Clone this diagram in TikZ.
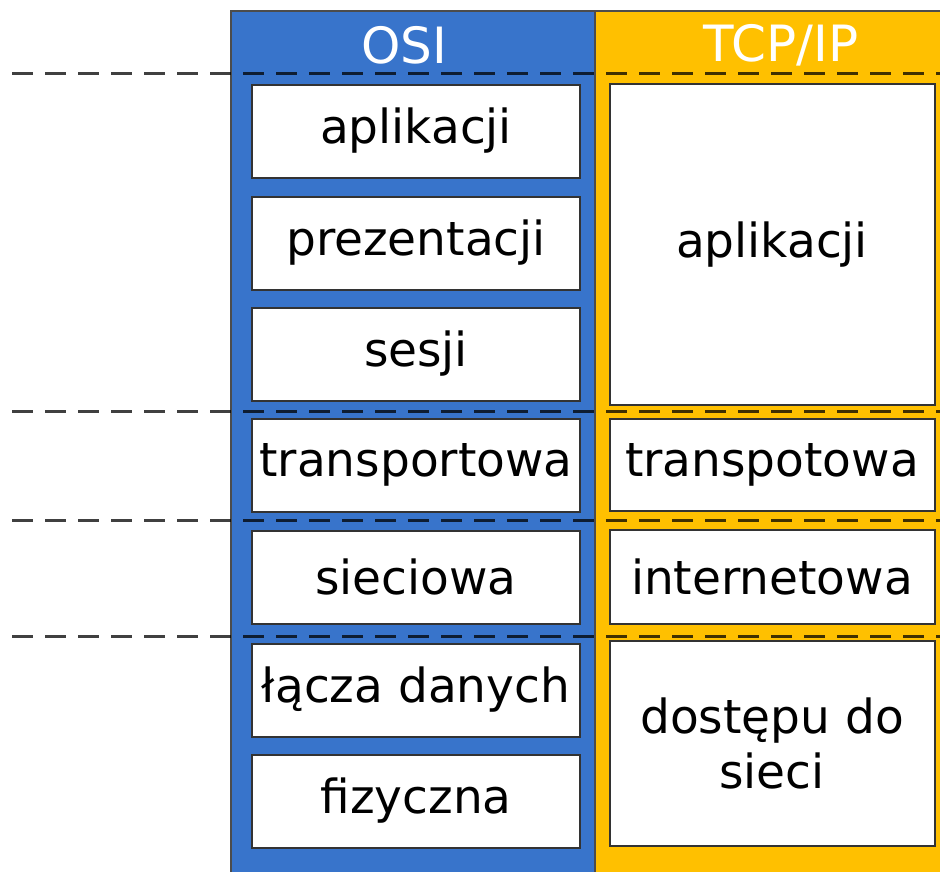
\documentclass[tikz,border=0pt]{standalone}
\usepackage{fontspec}
\setmainfont{DejaVu Sans}
\definecolor{osiblue}{RGB}{56,116,203}
\definecolor{tcpyellow}{RGB}{255,192,0}

\begin{document}
\begin{tikzpicture}[x=1pt, y=-1pt,
    column/.style={draw=black!70, line width=2pt, anchor=north west, inner sep=0pt},
    layer/.style={draw=black!80, line width=2pt, fill=white, inner sep=0pt, align=center,
      font=\fontsize{47}{55}\selectfont},
    head/.style={text=white, font=\fontsize{50}{56}\selectfont},
    level/.style={line width=3pt, black, opacity=.75, dash pattern=on 21pt off 12pt}]
  \useasboundingbox (0,0) rectangle (940,871);
  % columns
  \node[column, fill=osiblue, minimum width=364pt, minimum height=870pt] (osi) at (230,10) {};
  \node[column, fill=tcpyellow, minimum width=350pt, minimum height=870pt] (tcp) at (594,10) {};
  \node[head] (osihead) at (404,45) {OSI};
  \node[head] (tcphead) at (781,45) {TCP/IP};
  % borders between the groups
  \foreach \y in {73, 411, 520, 636}
    \draw[level] (12,\y) -- (940,\y);
  % OSI layers
  \foreach \name/\y/\txt in {app/131/aplikacji, pres/243/prezentacji, ses/354/sesji,
      trans/465/transportowa, net/577/sieciowa, link/690/łącza danych, phys/801/fizyczna}
    \node[layer, minimum width=328pt, minimum height=93pt] (osi\name) at (416,\y) {\txt};
  % TCP/IP layers
  \node[layer, minimum width=325pt, minimum height=321pt] (tcpapp) at (772,244.5) {aplikacji};
  \node[layer, minimum width=325pt, minimum height=92pt] (tcptrans) at (772,465) {transpotowa};
  \node[layer, minimum width=325pt, minimum height=94pt] (tcpnet) at (772,577) {internetowa};
  \node[layer, minimum width=325pt, minimum height=205pt] (tcplink) at (772,743) {dostępu do\\sieci};
\end{tikzpicture}
\end{document}
